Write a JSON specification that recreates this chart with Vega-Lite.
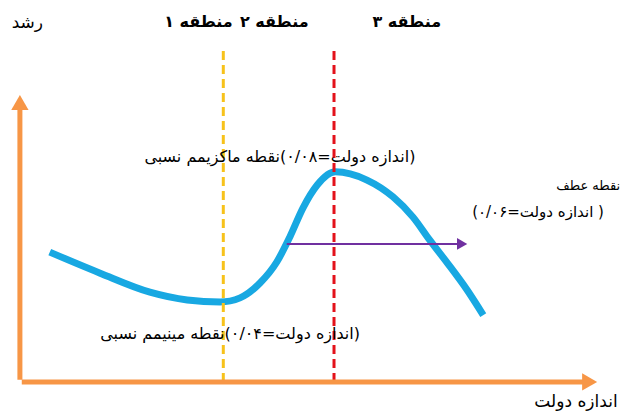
{
  "$schema": "https://vega.github.io/schema/vega-lite/v6.json",
  "width": 622,
  "height": 412,
  "autosize": {"type": "none"},
  "padding": 0,
  "background": "white",
  "config": {"view": {"stroke": null}},
  "datasets": {
    "curve": [
      {"x": 8.0, "y": 38.8},
      {"x": 16.1, "y": 33.7},
      {"x": 24.1, "y": 29.1},
      {"x": 30.1, "y": 27.2},
      {"x": 35.4, "y": 26.7},
      {"x": 38.6, "y": 27.7},
      {"x": 41.8, "y": 31.3},
      {"x": 44.5, "y": 36.4},
      {"x": 46.6, "y": 42.5},
      {"x": 48.7, "y": 49.5},
      {"x": 51.0, "y": 55.1},
      {"x": 53.9, "y": 58.3},
      {"x": 59.0, "y": 56.3},
      {"x": 63.2, "y": 52.2},
      {"x": 66.4, "y": 47.3},
      {"x": 69.1, "y": 41.7},
      {"x": 71.9, "y": 36.2},
      {"x": 75.1, "y": 29.6},
      {"x": 77.7, "y": 23.5}
    ],
    "zones": [
      {"x": 35.9, "y": 7.3, "y2": 87.9, "boundary": "1-2"},
      {"x": 53.7, "y": 7.3, "y2": 87.9, "boundary": "2-3"}
    ],
    "axes": [
      {"x": 3.2, "y": 7.8, "x2": 3.2, "y2": 74.5},
      {"x": 3.5, "y": 7.3, "x2": 94.9, "y2": 7.3}
    ],
    "axisHeads": [
      {"x": 3.2, "y": 75.1, "shape": "triangle-up"},
      {"x": 94.8, "y": 7.3, "shape": "triangle-right"}
    ],
    "inflection": [
      {"x": 46.1, "y": 40.8, "x2": 74.3}
    ],
    "regions": [
      {"x": 31.9, "y": 94.7, "label": "منطقه ۱"},
      {"x": 44.1, "y": 94.7, "label": "منطقه ۲"},
      {"x": 65.4, "y": 94.7, "label": "منطقه ۳"}
    ],
    "extremes": [
      {"x": 45.0, "y": 61.9, "label": "\u200f(اندازه دولت=۰/۰۸)نقطه ماکزیمم نسبی"},
      {"x": 37.0, "y": 18.9, "label": "\u200f(اندازه دولت=۰/۰۴)نقطه مینیمم نسبی"}
    ],
    "notes": [
      {"x": 86.5, "y": 48.5, "label": "\u200f( اندازه دولت=۰/۰۶)"}
    ],
    "inflectionTitle": [
      {"x": 99.7, "y": 54.9, "label": "نقطه عطف"}
    ],
    "axisTitles": [
      {"x": 4.4, "y": 94.4, "label": "رشد"},
      {"x": 92.6, "y": 2.4, "label": "اندازه دولت"}
    ]
  },
  "layer": [
    {
      "data": {"name": "curve"},
      "mark": {"type": "line", "interpolate": "monotone", "color": "#18a8e2", "strokeWidth": 7},
      "encoding": {
        "x": {"field": "x", "type": "quantitative", "scale": {"domain": [0, 100], "nice": false, "zero": false}, "axis": null},
        "y": {"field": "y", "type": "quantitative", "scale": {"domain": [0, 100], "nice": false, "zero": false}, "axis": null}
      }
    },
    {
      "data": {"name": "inflection"},
      "mark": {"type": "rule", "color": "#7030a0", "strokeWidth": 2},
      "encoding": {
        "x": {"field": "x", "type": "quantitative", "scale": {"domain": [0, 100], "nice": false, "zero": false}, "axis": null},
        "x2": {"field": "x2"},
        "y": {"field": "y", "type": "quantitative", "scale": {"domain": [0, 100], "nice": false, "zero": false}, "axis": null}
      }
    },
    {
      "data": {"name": "inflection"},
      "mark": {"type": "point", "shape": "triangle-right", "filled": true, "color": "#7030a0", "size": 140, "opacity": 1},
      "encoding": {
        "x": {"field": "x2", "type": "quantitative", "scale": {"domain": [0, 100], "nice": false, "zero": false}, "axis": null},
        "y": {"field": "y", "type": "quantitative", "scale": {"domain": [0, 100], "nice": false, "zero": false}, "axis": null}
      }
    },
    {
      "data": {"name": "zones"},
      "mark": {"type": "rule", "strokeWidth": 3, "strokeDash": [9, 5]},
      "encoding": {
        "x": {"field": "x", "type": "quantitative", "scale": {"domain": [0, 100], "nice": false, "zero": false}, "axis": null},
        "y": {"field": "y", "type": "quantitative", "scale": {"domain": [0, 100], "nice": false, "zero": false}, "axis": null},
        "y2": {"field": "y2"},
        "color": {"field": "boundary", "type": "nominal", "scale": {"domain": ["1-2", "2-3"], "range": ["#f7c21b", "#e3121b"]}, "legend": null}
      }
    },
    {
      "data": {"name": "axes"},
      "mark": {"type": "rule", "color": "#f79646", "strokeWidth": 5},
      "encoding": {
        "x": {"field": "x", "type": "quantitative", "scale": {"domain": [0, 100], "nice": false, "zero": false}, "axis": null},
        "y": {"field": "y", "type": "quantitative", "scale": {"domain": [0, 100], "nice": false, "zero": false}, "axis": null},
        "x2": {"field": "x2"},
        "y2": {"field": "y2"}
      }
    },
    {
      "data": {"name": "axisHeads"},
      "mark": {"type": "point", "filled": true, "color": "#f79646", "size": 300, "opacity": 1},
      "encoding": {
        "x": {"field": "x", "type": "quantitative", "scale": {"domain": [0, 100], "nice": false, "zero": false}, "axis": null},
        "y": {"field": "y", "type": "quantitative", "scale": {"domain": [0, 100], "nice": false, "zero": false}, "axis": null},
        "shape": {"field": "shape", "type": "nominal", "scale": null}
      }
    },
    {
      "data": {"name": "regions"},
      "mark": {"type": "text", "font": "DejaVu Sans", "fontSize": 16, "fontWeight": "bold", "color": "black", "align": "center", "baseline": "middle"},
      "encoding": {
        "x": {"field": "x", "type": "quantitative", "scale": {"domain": [0, 100], "nice": false, "zero": false}, "axis": null},
        "y": {"field": "y", "type": "quantitative", "scale": {"domain": [0, 100], "nice": false, "zero": false}, "axis": null},
        "text": {"field": "label"}
      }
    },
    {
      "data": {"name": "extremes"},
      "mark": {"type": "text", "font": "DejaVu Sans", "fontSize": 16, "color": "black", "align": "center", "baseline": "middle"},
      "encoding": {
        "x": {"field": "x", "type": "quantitative", "scale": {"domain": [0, 100], "nice": false, "zero": false}, "axis": null},
        "y": {"field": "y", "type": "quantitative", "scale": {"domain": [0, 100], "nice": false, "zero": false}, "axis": null},
        "text": {"field": "label"}
      }
    },
    {
      "data": {"name": "notes"},
      "mark": {"type": "text", "font": "DejaVu Sans", "fontSize": 15, "color": "black", "align": "center", "baseline": "middle"},
      "encoding": {
        "x": {"field": "x", "type": "quantitative", "scale": {"domain": [0, 100], "nice": false, "zero": false}, "axis": null},
        "y": {"field": "y", "type": "quantitative", "scale": {"domain": [0, 100], "nice": false, "zero": false}, "axis": null},
        "text": {"field": "label"}
      }
    },
    {
      "data": {"name": "inflectionTitle"},
      "mark": {"type": "text", "font": "DejaVu Sans", "fontSize": 13, "color": "black", "align": "right", "baseline": "middle"},
      "encoding": {
        "x": {"field": "x", "type": "quantitative", "scale": {"domain": [0, 100], "nice": false, "zero": false}, "axis": null},
        "y": {"field": "y", "type": "quantitative", "scale": {"domain": [0, 100], "nice": false, "zero": false}, "axis": null},
        "text": {"field": "label"}
      }
    },
    {
      "data": {"name": "axisTitles"},
      "mark": {"type": "text", "font": "DejaVu Sans", "fontSize": 17, "color": "black", "align": "center", "baseline": "middle"},
      "encoding": {
        "x": {"field": "x", "type": "quantitative", "scale": {"domain": [0, 100], "nice": false, "zero": false}, "axis": null},
        "y": {"field": "y", "type": "quantitative", "scale": {"domain": [0, 100], "nice": false, "zero": false}, "axis": null},
        "text": {"field": "label"}
      }
    }
  ]
}
